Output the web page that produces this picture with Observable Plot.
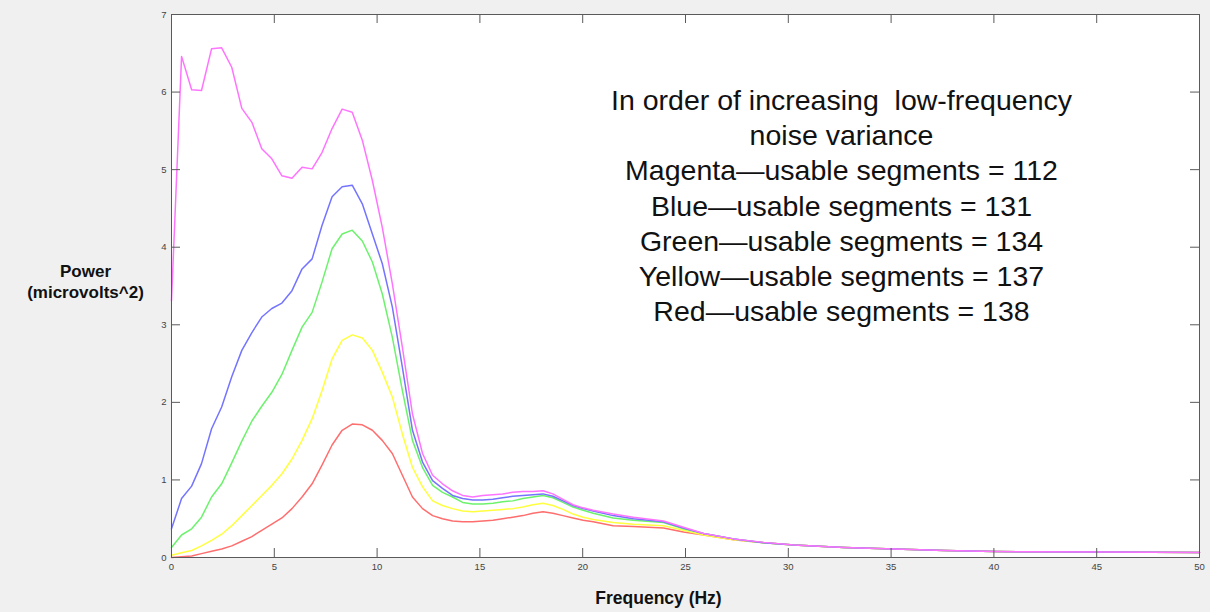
<!DOCTYPE html>
<html><head><meta charset="utf-8">
<script src="https://cdn.jsdelivr.net/npm/d3@7"></script>
<script src="https://cdn.jsdelivr.net/npm/@observablehq/plot@0.6"></script>
<style>
html,body{margin:0;padding:0;background:#f0f0f0;}
#chart svg{display:block;}
</style></head><body><div id="chart"></div>
<script>
// Frequency grid (Hz)
const freq = [0, 0.49, 0.98, 1.46, 1.95, 2.44, 2.93, 3.42, 3.91, 4.39, 4.88, 5.37, 5.86, 6.35, 6.84, 7.32, 7.81, 8.30, 8.79, 9.28, 9.77, 10.25, 10.74, 11.23, 11.72, 12.21, 12.70, 13.18, 13.67, 14.16, 14.65, 15.14, 15.63, 16.11, 16.60, 17.09, 17.58, 18.07, 18.55, 19.04, 19.53, 20.02, 20.51, 21.48, 22.46, 23.93, 24.90, 25.88, 27.34, 28.81, 30.27, 32.71, 35.16, 37.60, 40.04, 45.41, 50.00];

const red     = [0.00,0.01,0.02,0.05,0.08,0.11,0.15,0.21,0.27,0.35,0.43,0.51,0.63,0.78,0.95,1.19,1.45,1.64,1.72,1.71,1.64,1.51,1.34,1.06,0.78,0.63,0.54,0.50,0.47,0.46,0.46,0.47,0.48,0.50,0.52,0.54,0.57,0.59,0.57,0.54,0.51,0.48,0.46,0.41,0.40,0.38,0.33,0.29,0.23,0.19,0.16,0.13,0.11,0.09,0.077,0.07,0.065];
const yellow  = [0.03,0.06,0.09,0.15,0.22,0.30,0.41,0.54,0.67,0.80,0.93,1.08,1.27,1.51,1.79,2.15,2.56,2.80,2.87,2.83,2.67,2.39,2.07,1.59,1.16,0.91,0.73,0.67,0.63,0.60,0.59,0.60,0.61,0.62,0.63,0.65,0.68,0.70,0.67,0.62,0.56,0.52,0.49,0.45,0.43,0.41,0.35,0.29,0.23,0.19,0.16,0.13,0.11,0.09,0.077,0.07,0.065];
const green   = [0.13,0.29,0.37,0.52,0.78,0.95,1.22,1.50,1.76,1.95,2.13,2.36,2.67,2.97,3.16,3.55,3.98,4.17,4.22,4.08,3.81,3.40,2.84,2.15,1.51,1.16,0.93,0.84,0.78,0.71,0.69,0.69,0.70,0.72,0.73,0.76,0.78,0.80,0.77,0.71,0.65,0.61,0.57,0.51,0.48,0.45,0.37,0.31,0.24,0.19,0.16,0.13,0.11,0.09,0.077,0.07,0.065];
const blue    = [0.37,0.76,0.92,1.21,1.66,1.94,2.33,2.67,2.90,3.10,3.21,3.28,3.44,3.72,3.85,4.28,4.65,4.78,4.80,4.56,4.17,3.79,3.23,2.45,1.64,1.23,0.99,0.89,0.80,0.76,0.74,0.74,0.75,0.77,0.79,0.80,0.81,0.82,0.79,0.73,0.67,0.63,0.60,0.54,0.50,0.46,0.38,0.31,0.24,0.19,0.16,0.13,0.11,0.09,0.077,0.07,0.065];
const magenta = [3.31,6.46,6.03,6.02,6.56,6.57,6.32,5.79,5.61,5.27,5.14,4.92,4.89,5.03,5.01,5.22,5.53,5.78,5.74,5.38,4.86,4.26,3.53,2.71,1.85,1.34,1.06,0.95,0.86,0.80,0.78,0.80,0.81,0.82,0.84,0.85,0.85,0.86,0.82,0.75,0.68,0.64,0.61,0.56,0.52,0.47,0.39,0.31,0.24,0.195,0.16,0.13,0.11,0.09,0.077,0.07,0.065];

const seriesNames = ["Red series", "Yellow series", "Green series", "Blue series", "Magenta series"];
const seriesValues = [red, yellow, green, blue, magenta];
const seriesColors = ["#ff6e6e", "#ffff40", "#6cf26c", "#7474ff", "#ff74ff"];

const xTicks = [0, 5, 10, 15, 20, 25, 30, 35, 40, 45, 50];
const yTicks = [0, 1, 2, 3, 4, 5, 6, 7];

const annotation = "In order of increasing\u00a0 low-frequency\nnoise variance\nMagenta\u2014usable segments = 112\nBlue\u2014usable segments = 131\nGreen\u2014usable segments = 134\nYellow\u2014usable segments = 137\nRed\u2014usable segments = 138";
const xLabel = "Frequency (Hz)";
const yLabel = "Power\n(microvolts^2)";

const data = [];
seriesNames.forEach((name, i) => {
  freq.forEach((f, j) => data.push({series: name, f, v: seriesValues[i][j]}));
});

const W = 1210, H = 612;
const ml = 171, mr = 11, mt = 14, mb = 55;
const plotW = W - ml - mr, plotH = H - mt - mb;
const xMax = 50, yMax = 7;
const tickLen = 9;
const yLen = tickLen * yMax / plotH;
const xLen = tickLen * xMax / plotW;
const axisStroke = "#5a5a5a";

const chart = Plot.plot({
  width: W, height: H,
  marginLeft: ml, marginRight: mr, marginTop: mt, marginBottom: mb,
  style: {background: "#f0f0f0", fontFamily: "'Liberation Sans', Arial, Helvetica, sans-serif", overflow: "visible"},
  x: {domain: [0, xMax]},
  y: {domain: [0, yMax]},
  color: {type: "ordinal", domain: seriesNames, range: seriesColors},
  marks: [
    Plot.frame({fill: "white", stroke: null}),
    Plot.line(data, {x: "f", y: "v", z: "series", stroke: "series", strokeWidth: 1.5}),
    Plot.frame({stroke: axisStroke}),
    Plot.ruleX(xTicks, {x: d => d, y1: 0, y2: yLen, stroke: axisStroke}),
    Plot.ruleX(xTicks, {x: d => d, y1: yMax - yLen, y2: yMax, stroke: axisStroke}),
    Plot.ruleY(yTicks, {y: d => d, x1: 0, x2: xLen, stroke: axisStroke}),
    Plot.ruleY(yTicks, {y: d => d, x1: xMax - xLen, x2: xMax, stroke: axisStroke}),
    Plot.axisX({ticks: xTicks, tickFormat: d => String(d), tickSize: 0, tickPadding: 6, fontSize: 9.5, fill: "#444", label: null}),
    Plot.axisY({ticks: yTicks, tickFormat: d => String(d), tickSize: 0, tickPadding: 5, fontSize: 9.5, fill: "#444", label: null}),
    Plot.text([annotation], {text: d => d, frameAnchor: "top", dx: 156, dy: 71, lineAnchor: "top", fontSize: 28.5, lineHeight: 1.23, fill: "#111"}),
    Plot.text([xLabel], {text: d => d, frameAnchor: "bottom", dx: -27, dy: 46, lineAnchor: "bottom", fontSize: 17.5, fontWeight: "bold", fill: "#111"}),
    Plot.text([yLabel], {text: d => d, frameAnchor: "left", dx: -86, dy: -5, lineAnchor: "middle", textAnchor: "middle", fontSize: 17, lineHeight: 1.24, fontWeight: "bold", fill: "#111"})
  ]
});
document.getElementById("chart").appendChild(chart);
</script>
</body></html>
